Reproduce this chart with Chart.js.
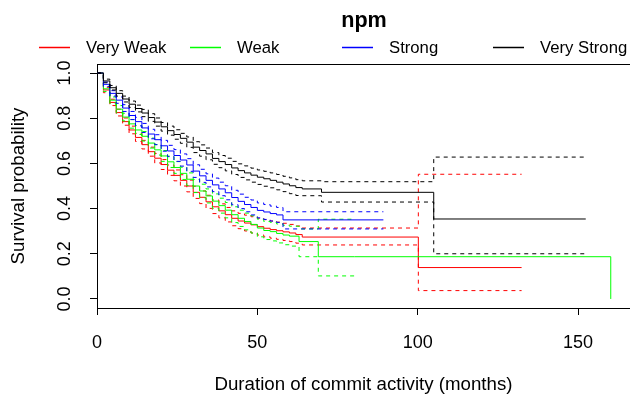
<!DOCTYPE html>
<html>
<head>
<meta charset="utf-8">
<title>npm survival</title>
<script src="https://cdn.jsdelivr.net/npm/chart.js@4"></script>
<style>
    html, body { margin: 0; padding: 0; background: #ffffff; }
    canvas { display: block; }
</style>
</head>
<body>
<canvas id="survivalChart" width="630" height="395"></canvas>
<script>
// --- Kaplan-Meier curves for npm, grouped by dependency strength ---

const chartTitle = 'npm';
const xAxisTitle = 'Duration of commit activity (months)';
const yAxisTitle = 'Survival probability';

const groupNames = ['Very Weak', 'Weak', 'Strong', 'Very Strong'];
const groupColors = ['#ff0000', '#00ff00', '#0000ff', '#000000'];

const xTickValues = [0, 50, 100, 150];
const yTickValues = [0, 0.2, 0.4, 0.6, 0.8, 1.0];

// Very Weak (red)
const veryWeakMonths = [0, 2, 4, 6, 8, 10, 12, 14, 16, 18, 20, 22, 24, 26, 28, 30, 32, 34, 36, 38, 40, 42, 44, 46, 48, 50, 52, 54, 56, 58, 60, 62, 64, 100.2, 132.4];
const veryWeakSurv = [1.0, 0.925, 0.87, 0.825, 0.785, 0.748, 0.715, 0.683, 0.652, 0.623, 0.595, 0.57, 0.547, 0.525, 0.5, 0.472, 0.45, 0.43, 0.408, 0.39, 0.373, 0.357, 0.345, 0.336, 0.328, 0.32, 0.313, 0.307, 0.302, 0.297, 0.292, 0.285, 0.274, 0.139, 0.139];
const veryWeakUpper = [1.0, 0.937, 0.884, 0.84, 0.801, 0.765, 0.733, 0.702, 0.672, 0.644, 0.617, 0.593, 0.571, 0.55, 0.526, 0.499, 0.478, 0.459, 0.438, 0.421, 0.405, 0.39, 0.379, 0.371, 0.364, 0.357, 0.351, 0.345, 0.34, 0.335, 0.33, 0.323, 0.314, 0.552, 0.552];
const veryWeakLower = [1.0, 0.913, 0.856, 0.81, 0.769, 0.731, 0.697, 0.664, 0.632, 0.602, 0.573, 0.547, 0.523, 0.5, 0.474, 0.445, 0.422, 0.401, 0.378, 0.359, 0.341, 0.324, 0.311, 0.301, 0.292, 0.283, 0.275, 0.269, 0.264, 0.259, 0.254, 0.247, 0.239, 0.037, 0.037];

// Weak (green) - confidence band stops at ~80 months
const weakMonths = [0, 2, 4, 6, 8, 10, 12, 14, 16, 18, 20, 22, 24, 26, 28, 30, 32, 34, 36, 38, 40, 42, 44, 46, 48, 50, 52, 54, 56, 58, 60, 63, 69, 80.3, 160.2];
const weakSurv = [1.0, 0.93, 0.88, 0.84, 0.805, 0.775, 0.748, 0.72, 0.69, 0.66, 0.633, 0.607, 0.582, 0.556, 0.53, 0.5, 0.478, 0.456, 0.433, 0.413, 0.393, 0.373, 0.357, 0.343, 0.33, 0.314, 0.303, 0.298, 0.29, 0.283, 0.278, 0.254, 0.187, 0.187, 0.0];
const weakUpper = [1.0, 0.942, 0.894, 0.856, 0.822, 0.794, 0.768, 0.741, 0.712, 0.683, 0.657, 0.632, 0.608, 0.583, 0.558, 0.529, 0.508, 0.487, 0.465, 0.446, 0.427, 0.408, 0.393, 0.38, 0.368, 0.353, 0.343, 0.339, 0.332, 0.326, 0.322, 0.31, 0.353, 0.353, null];
const weakLower = [1.0, 0.918, 0.866, 0.824, 0.788, 0.756, 0.728, 0.699, 0.668, 0.637, 0.609, 0.582, 0.556, 0.529, 0.502, 0.471, 0.448, 0.425, 0.401, 0.38, 0.359, 0.338, 0.321, 0.306, 0.292, 0.275, 0.263, 0.257, 0.248, 0.24, 0.234, 0.187, 0.102, 0.102, null];

// Strong (blue)
const strongMonths = [0, 2, 4, 6, 8, 10, 12, 14, 16, 18, 20, 22, 24, 26, 28, 30, 32, 34, 36, 38, 40, 42, 44, 46, 48, 50, 52, 54, 56, 58, 89.3];
const strongSurv = [1.0, 0.95, 0.91, 0.88, 0.845, 0.812, 0.785, 0.757, 0.73, 0.705, 0.678, 0.655, 0.635, 0.615, 0.593, 0.566, 0.545, 0.525, 0.505, 0.487, 0.47, 0.449, 0.432, 0.418, 0.405, 0.392, 0.385, 0.378, 0.372, 0.35, 0.35];
const strongUpper = [1.0, 0.96, 0.922, 0.894, 0.86, 0.83, 0.804, 0.777, 0.751, 0.727, 0.702, 0.68, 0.661, 0.642, 0.621, 0.594, 0.574, 0.554, 0.535, 0.517, 0.501, 0.481, 0.464, 0.45, 0.438, 0.425, 0.418, 0.411, 0.405, 0.386, 0.386];
const strongLower = [1.0, 0.94, 0.898, 0.866, 0.83, 0.794, 0.766, 0.737, 0.709, 0.683, 0.654, 0.63, 0.609, 0.588, 0.565, 0.538, 0.516, 0.496, 0.475, 0.457, 0.439, 0.417, 0.4, 0.386, 0.372, 0.359, 0.352, 0.345, 0.339, 0.31, 0.31];

// Very Strong (black)
const veryStrongMonths = [0, 2, 4, 6, 8, 10, 12, 14, 16, 18, 20, 22, 24, 26, 28, 30, 32, 34, 36, 38, 40, 42, 44, 46, 48, 50, 52, 54, 56, 58, 60, 62, 64, 70, 105, 152.4];
const veryStrongSurv = [1.0, 0.965, 0.935, 0.91, 0.885, 0.862, 0.843, 0.823, 0.803, 0.783, 0.762, 0.745, 0.728, 0.711, 0.694, 0.672, 0.657, 0.642, 0.622, 0.608, 0.595, 0.58, 0.568, 0.558, 0.548, 0.539, 0.532, 0.525, 0.517, 0.509, 0.501, 0.493, 0.487, 0.472, 0.354, 0.354];
const veryStrongUpper = [1.0, 0.973, 0.945, 0.922, 0.898, 0.876, 0.858, 0.839, 0.82, 0.801, 0.781, 0.765, 0.749, 0.733, 0.717, 0.696, 0.682, 0.668, 0.648, 0.635, 0.623, 0.609, 0.598, 0.589, 0.579, 0.571, 0.565, 0.558, 0.551, 0.543, 0.536, 0.528, 0.523, 0.519, 0.628, 0.628];
const veryStrongLower = [1.0, 0.957, 0.925, 0.898, 0.872, 0.848, 0.828, 0.807, 0.786, 0.765, 0.743, 0.725, 0.707, 0.689, 0.671, 0.648, 0.632, 0.616, 0.596, 0.581, 0.567, 0.551, 0.538, 0.527, 0.517, 0.507, 0.499, 0.492, 0.483, 0.475, 0.466, 0.458, 0.457, 0.429, 0.2, 0.2];

const FONT_FAMILY = '"Liberation Sans", Arial, Helvetica, sans-serif';

const groups = [
    { months: veryWeakMonths, surv: veryWeakSurv, upper: veryWeakUpper, lower: veryWeakLower },
    { months: weakMonths, surv: weakSurv, upper: weakUpper, lower: weakLower },
    { months: strongMonths, surv: strongSurv, upper: strongUpper, lower: strongLower },
    { months: veryStrongMonths, surv: veryStrongSurv, upper: veryStrongUpper, lower: veryStrongLower }
];

function toPoints(months, values) {
    return months.map((m, i) => ({ x: m, y: values[i] }));
}

// one solid curve plus two dashed confidence lines per group
// stepped 'before': hold the previous value, then drop at the next event time
const datasets = [];
groups.forEach((g, gi) => {
    const base = {
        borderColor: groupColors[gi],
        borderWidth: 1,
        pointRadius: 0,
        pointHoverRadius: 0,
        stepped: 'before',
        fill: false,
        spanGaps: false,
        order: groups.length - gi   // later groups on top, like R
    };
    datasets.push({ ...base, label: groupNames[gi], data: toPoints(g.months, g.surv) });
    datasets.push({ ...base, label: groupNames[gi] + ' (upper)', data: toPoints(g.months, g.upper), borderDash: [4, 4] });
    datasets.push({ ...base, label: groupNames[gi] + ' (lower)', data: toPoints(g.months, g.lower), borderDash: [4, 4] });
});

// title, horizontal legend and the top edge of the plot box
const headerPlugin = {
    id: 'header',
    afterDraw(chart) {
        const ctx = chart.ctx;
        const area = chart.chartArea;
        ctx.save();

        ctx.fillStyle = '#000000';
        ctx.fillRect(area.left, Math.round(area.top), chart.width - area.left, 1);

        ctx.font = 'bold 21.6px ' + FONT_FAMILY;
        ctx.textAlign = 'center';
        ctx.textBaseline = 'middle';
        ctx.fillText(chartTitle, 364, 21);

        ctx.font = '16.7px ' + FONT_FAMILY;
        ctx.textAlign = 'left';
        groupNames.forEach((name, i) => {
            const x0 = Math.round(39 + i * 151.3);
            ctx.strokeStyle = groupColors[i];
            ctx.lineWidth = 1.5;
            ctx.beginPath();
            ctx.moveTo(x0, 47.5);
            ctx.lineTo(x0 + 31, 47.5);
            ctx.stroke();
            ctx.fillStyle = '#000000';
            ctx.fillText(name, x0 + 47, 48);
        });
        ctx.restore();
    }
};

const tickFont = { family: FONT_FAMILY, size: 18 };
const titleFont = { family: FONT_FAMILY, size: 18.7 };

new Chart(document.getElementById('survivalChart').getContext('2d'), {
    type: 'line',
    data: { datasets: datasets },
    plugins: [headerPlugin],
    options: {
        responsive: false,
        animation: false,
        devicePixelRatio: 1,
        layout: { padding: { top: 64, left: 0, right: 0, bottom: 0 } },
        plugins: {
            legend: { display: false },
            title: { display: false },
            tooltip: { enabled: false }
        },
        scales: {
            x: {
                type: 'linear',
                min: 0,
                max: 166.2,
                afterBuildTicks: axis => { axis.ticks = xTickValues.map(v => ({ value: v })); },
                afterFit: scale => { scale.height = 87; },
                border: { display: true, color: '#000', width: 1 },
                grid: { drawOnChartArea: false, drawTicks: true, tickLength: 7, color: '#000', tickColor: '#000' },
                ticks: { color: '#000', font: tickFont, padding: 17, maxRotation: 0, autoSkip: false },
                title: { display: true, text: xAxisTitle, color: '#000', font: titleFont, padding: { top: 0, bottom: -1 } }
            },
            y: {
                type: 'linear',
                min: -0.04,
                max: 1.04,
                afterBuildTicks: axis => { axis.ticks = yTickValues.map(v => ({ value: v })); },
                afterFit: scale => { scale.width = 97; },
                border: { display: true, color: '#000', width: 1 },
                grid: { drawOnChartArea: false, drawTicks: true, tickLength: 7, color: '#000', tickColor: '#000' },
                ticks: {
                    color: '#000',
                    font: tickFont,
                    padding: 12,
                    minRotation: 90,
                    maxRotation: 90,
                    crossAlign: 'center',
                    callback: v => Number(v).toFixed(1)
                },
                title: { display: true, text: yAxisTitle, color: '#000', font: titleFont, padding: { top: 8, bottom: 0 } }
            }
        }
    }
});
</script>
</body>
</html>
